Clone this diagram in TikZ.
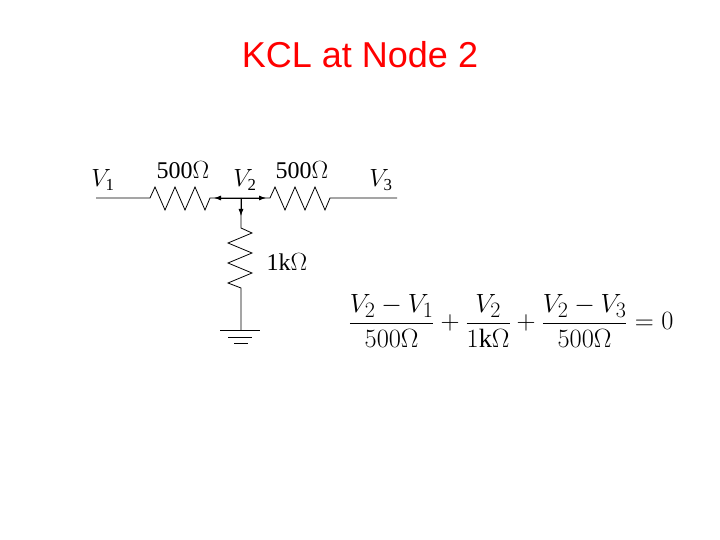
\documentclass[tikz,border=0pt]{standalone}
\usepackage{fontspec}
\usepackage{graphicx}
\setmainfont{Liberation Serif}
\newfontfamily\titlefont{Liberation Sans}
\usetikzlibrary{arrows.meta}
\begin{document}
\begin{tikzpicture}[x=1pt,y=-1pt,line width=0.8pt,
  lbl/.style={font=\fontsize{24}{28}\selectfont,inner sep=0pt},
  cur/.style={-{Latex[length=7pt,width=5pt]}}]
\useasboundingbox (0,0) rectangle (720,540);
\node[font=\titlefont\fontsize{36}{40}\selectfont,text=red] (title) at (360,55) {KCL at Node 2};
\coordinate (a) at (96,198);
\coordinate (n) at (241,198);
\coordinate (b) at (397,198);
\coordinate (g) at (241,330);
\draw (a) -- (150,198) -- (155,187) -- (165,210) -- (175,187) -- (185,210) -- (195,187) -- (205,210) -- (210,198) -- (n)
      -- (270,198) -- (275,187) -- (285,210) -- (295,187) -- (305,210) -- (315,187) -- (325,210) -- (330,198) -- (b);
\draw (n) -- (241,228) -- (252,233) -- (228,243) -- (252,253) -- (228,263) -- (252,273) -- (228,283) -- (241,288) -- (g);
\draw (220,330) -- (260,330) (228,337) -- (252,337) (234,343) -- (248,343);
\draw[cur] (n) -- (214,198);
\draw[cur] (n) -- (266,198);
\draw[cur] (n) -- (241,216);
\node[lbl] (v1) at (103,180) {$V_{\mathrm{1}}$};
\node[lbl] (r1) at (183,170) {500$\Omega$};
\node[lbl] (v2) at (245,180) {$V_{\mathrm{2}}$};
\node[lbl] (r2) at (302,170) {500$\Omega$};
\node[lbl] (v3) at (381,180) {$V_{\mathrm{3}}$};
\node[lbl] (r3) at (287,262) {1k$\Omega$};
\node[font=\fontsize{24.88}{30}\selectfont] (eq) at (511,321)
 {\scalebox{1.06}{$\displaystyle\frac{V_2-V_1}{500\Omega}+\frac{V_2}{1\mathrm{k}\Omega}+\frac{V_2-V_3}{500\Omega}=0$}};
\end{tikzpicture}
\end{document}
